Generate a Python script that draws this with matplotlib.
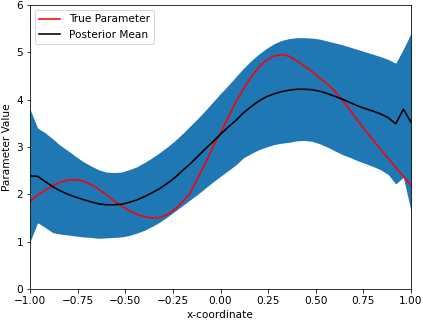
import matplotlib
matplotlib.use("Agg")
import matplotlib.pyplot as plt
import numpy as np

x = [-1.00, -0.96, -0.92, -0.88, -0.84, -0.80, -0.76, -0.72, -0.68, -0.64,
     -0.60, -0.56, -0.52, -0.48, -0.44, -0.40, -0.36, -0.32, -0.28, -0.24,
     -0.20, -0.16, -0.12, -0.08, -0.04, 0.00, 0.04, 0.08, 0.12, 0.16,
     0.20, 0.24, 0.28, 0.32, 0.36, 0.40, 0.44, 0.48, 0.52, 0.56,
     0.60, 0.64, 0.68, 0.72, 0.76, 0.80, 0.84, 0.88, 0.92, 0.96, 1.00]

true_param = [1.86, 1.98, 2.09, 2.18, 2.26, 2.30, 2.31, 2.28, 2.21, 2.11,
              1.99, 1.87, 1.76, 1.66, 1.58, 1.53, 1.50, 1.51, 1.57, 1.68,
              1.84, 2.02, 2.34, 2.65, 3.00, 3.30, 3.62, 3.95, 4.22, 4.47,
              4.68, 4.83, 4.92, 4.95, 4.92, 4.82, 4.71, 4.60, 4.46, 4.33,
              4.18, 3.99, 3.78, 3.56, 3.35, 3.15, 2.95, 2.76, 2.57, 2.38, 2.19]

post_mean = [2.39, 2.38, 2.27, 2.16, 2.07, 2.00, 1.94, 1.89, 1.84, 1.80,
             1.78, 1.78, 1.79, 1.83, 1.88, 1.95, 2.03, 2.12, 2.23, 2.35,
             2.50, 2.64, 2.80, 2.96, 3.11, 3.27, 3.42, 3.56, 3.72, 3.85,
             3.97, 4.06, 4.12, 4.17, 4.20, 4.22, 4.22, 4.21, 4.18, 4.13,
             4.07, 4.01, 3.94, 3.87, 3.81, 3.76, 3.70, 3.62, 3.49, 3.80, 3.52]

upper = [3.80, 3.40, 3.30, 3.17, 3.03, 2.92, 2.80, 2.69, 2.60, 2.52,
         2.47, 2.46, 2.47, 2.52, 2.58, 2.67, 2.77, 2.88, 3.00, 3.13,
         3.28, 3.44, 3.60, 3.77, 3.95, 4.13, 4.30, 4.48, 4.66, 4.82,
         4.96, 5.08, 5.18, 5.25, 5.29, 5.31, 5.31, 5.30, 5.28, 5.24,
         5.20, 5.16, 5.11, 5.06, 5.01, 4.96, 4.91, 4.85, 4.77, 5.07, 5.40]

lower = [1.00, 1.40, 1.30, 1.19, 1.16, 1.14, 1.12, 1.10, 1.09, 1.07,
         1.08, 1.09, 1.10, 1.13, 1.18, 1.24, 1.32, 1.41, 1.52, 1.64,
         1.76, 1.88, 2.00, 2.13, 2.26, 2.38, 2.50, 2.62, 2.77, 2.86,
         2.94, 3.00, 3.05, 3.08, 3.10, 3.13, 3.14, 3.12, 3.07, 3.00,
         2.92, 2.84, 2.78, 2.71, 2.65, 2.59, 2.52, 2.42, 2.22, 2.36, 1.65]

plt.rcParams['font.size'] = 10.5
dpi = 72
fig = plt.figure(figsize=(423 / dpi, 322 / dpi), dpi=dpi)
ax = fig.add_axes([30 / 423, 33 / 322, 381 / 423, 284 / 322])

ax.fill_between(x, lower, upper, color="#1f77b4", linewidth=0)
ax.plot(x, true_param, color="red", linewidth=1.6, label="True Parameter")
ax.plot(x, post_mean, color="black", linewidth=1.6, label="Posterior Mean")

ax.set_xlim(-1, 1)
ax.set_ylim(0, 6)
ax.set_xlabel("x-coordinate")
ax.set_ylabel("Parameter Value")
ax.legend(loc="upper left")

fig.savefig("out.png", dpi=dpi)
